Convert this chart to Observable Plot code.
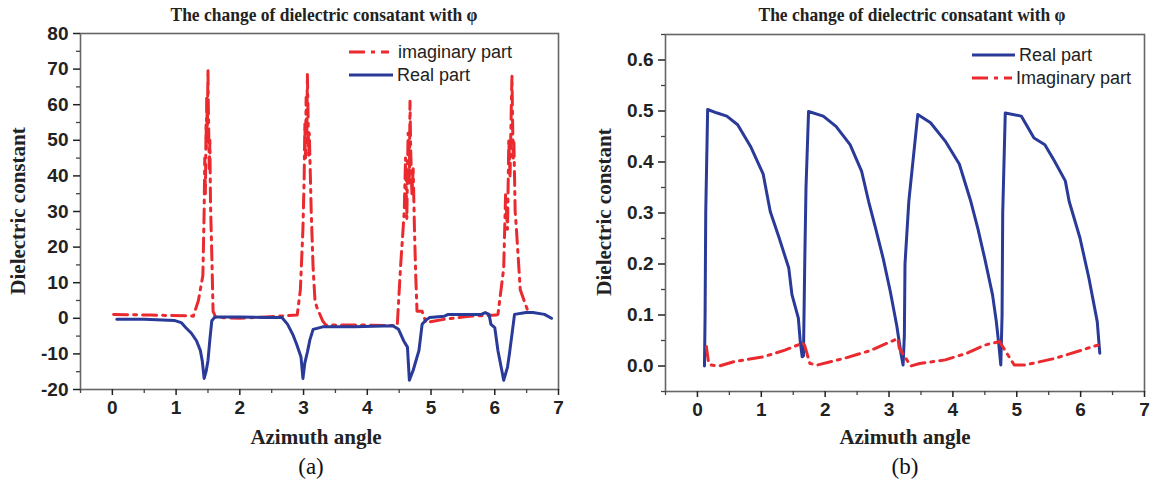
<!DOCTYPE html>
<html><head><meta charset="utf-8">
<script src="https://cdn.jsdelivr.net/npm/d3@7"></script>
<script src="https://cdn.jsdelivr.net/npm/@observablehq/plot@0.6"></script>
<style>
body{margin:0;background:#fff;}
#fig{position:relative;width:1151px;height:483px;overflow:hidden;background:#fff;}
.abs{position:absolute;white-space:nowrap;}
.title{font:bold 19px "Liberation Serif","Times New Roman",serif;color:#222;transform:translate(-50%,-50%) scaleX(0.92);}
.axlab{font:bold 21px "Liberation Serif","Times New Roman",serif;color:#222;transform:translate(-50%,-50%);}
.ylab{transform:translate(-50%,-50%) rotate(-90deg);}
.cap{font:23px "Liberation Serif","Times New Roman",serif;color:#111;transform:translate(-50%,-50%);}
.leg{font:18px "Liberation Sans",Arial,sans-serif;color:#222;display:flex;align-items:center;height:22px;transform:translateY(-50%);}
.leg svg{margin-right:4px;}
.plotwrap{position:absolute;top:0;}
</style></head><body><div id="fig"></div>
<script>
// ---------- data: panel (a) ----------
const aRealX = [0.07,0.5,0.97,1.08,1.15,1.24,1.32,1.38,1.41,1.44,1.47,1.50,1.53,1.56,1.61,2.0,2.4,2.66,2.75,2.83,2.89,2.96,2.99,3.02,3.06,3.10,3.15,3.30,3.8,4.40,4.49,4.57,4.63,4.66,4.72,4.77,4.81,4.86,4.92,4.98,5.21,5.27,5.79,5.85,5.91,5.94,6.00,6.05,6.11,6.14,6.20,6.23,6.29,6.31,6.49,6.60,6.78,6.89];
const aRealY = [-0.3,-0.3,-0.6,-1.2,-2.6,-4.2,-6.3,-9,-11.9,-16.9,-15,-11.9,-6,-0.7,0.4,0.4,0.2,0.2,-1.7,-4.5,-7.2,-10.9,-16.9,-12.5,-9.5,-6,-3.1,-2.4,-2.4,-2.1,-3.1,-6.3,-8.1,-17.4,-14.6,-11.5,-9.1,-1.7,-0.5,0.2,0.6,1.1,1.1,1.6,1.1,-1.7,-2.6,-9.1,-14.6,-17.4,-13.7,-10,-1.7,1.1,1.6,1.6,1.1,0];
const aImagX = [0.02,0.6,1.2,1.27,1.35,1.42,1.44,1.45,1.46,1.47,1.475,1.48,1.49,1.50,1.505,1.51,1.52,1.53,1.54,1.56,1.58,1.62,2.0,2.4,2.9,2.95,2.99,3.01,3.02,3.03,3.04,3.05,3.06,3.07,3.08,3.09,3.12,3.15,3.18,3.21,3.30,3.35,4.0,4.47,4.52,4.58,4.60,4.62,4.64,4.66,4.67,4.68,4.70,4.72,4.74,4.76,4.78,4.86,4.92,5.2,5.6,6.02,6.05,6.14,6.17,6.20,6.22,6.24,6.26,6.27,6.28,6.29,6.30,6.32,6.34,6.40,6.52,6.55];
const aImagY = [1.1,0.9,0.7,0.6,5,12,30,45,35,55,48,62,52,70,60,55,42,50,32,18,2,0.3,0,0.4,0.9,8,25,40,55,45,62,50,68.5,58,45,52,30,14,4.8,3,-0.7,-1.9,-1.9,-2.1,14,30,45,28,52,38,61,48,35,42,25,12,2,2,-1.2,-0.3,0.6,0.9,1.1,14,35,25,50,40,60,68,55,45,50,30,25,8,2,1.6];

// ---------- data: panel (b) ----------
const bRealX = [0.11,0.12,0.13,0.16,0.31,0.46,0.63,0.83,1.03,1.14,1.28,1.43,1.48,1.58,1.61,1.64,1.66,1.68,1.70,1.74,1.97,2.17,2.39,2.57,2.68,2.79,2.91,3.02,3.12,3.19,3.22,3.24,3.25,3.31,3.45,3.65,3.88,4.10,4.28,4.39,4.50,4.62,4.68,4.72,4.75,4.77,4.78,4.82,5.07,5.27,5.44,5.59,5.76,5.82,5.99,6.13,6.26,6.30];
const bRealY = [0.0,0.1,0.3,0.503,0.496,0.49,0.473,0.431,0.376,0.303,0.251,0.192,0.14,0.094,0.048,0.018,0.02,0.2,0.35,0.499,0.49,0.47,0.434,0.382,0.323,0.27,0.21,0.146,0.08,0.022,0.002,0.06,0.2,0.323,0.493,0.477,0.441,0.396,0.323,0.27,0.21,0.14,0.087,0.041,0.002,0.1,0.3,0.496,0.49,0.447,0.434,0.402,0.363,0.323,0.251,0.172,0.087,0.025];
const bImagX = [0.14,0.17,0.2,0.34,0.57,1.03,1.37,1.65,1.68,1.76,1.88,2.3,2.7,3.14,3.16,3.34,3.48,3.88,4.22,4.5,4.73,4.96,5.13,5.6,6.27];
const bImagY = [0.038,0.01,0.002,0.0,0.0085,0.018,0.031,0.045,0.04,0.005,0.002,0.015,0.03,0.054,0.035,0.0,0.005,0.012,0.025,0.041,0.048,0.002,0.002,0.015,0.041];

// ---------- ticks & labels ----------
const xMajor = [0,1,2,3,4,5,6,7];
const xMinor = [-0.5,0.5,1.5,2.5,3.5,4.5,5.5,6.5];
const aYMajor = [-20,-10,0,10,20,30,40,50,60,70,80];
const aYMinor = [-15,-5,5,15,25,35,45,55,65,75];
const bYMajor = [0,0.1,0.2,0.3,0.4,0.5,0.6];
const bYMinor = [-0.05,0.05,0.15,0.25,0.35,0.45,0.55,0.65];
const titleText = "The change of dielectric consatant with φ";
const xLabel = "Azimuth angle";
const yLabel = "Dielectric constant";

const BLUE = "#2a3a98", RED = "#ea2a2e", DASH = "14,6,3,6";
const zip = (xs, ys) => xs.map((x, i) => ({x, y: ys[i]}));

function panel({real, imag, yDomain, yMajor, yMinor, yFmt, width, mL, mR, mT, mB, redOnTop}) {
  const tickFont = {fontSize: 19, fontWeight: "bold", fontFamily: "Liberation Sans, Arial, sans-serif"};
  const redLine = Plot.line(imag, {x: "x", y: "y", stroke: RED, strokeWidth: 3, strokeDasharray: DASH, strokeLinejoin: "round"});
  const blueLine = Plot.line(real, {x: "x", y: "y", stroke: BLUE, strokeWidth: 3, strokeLinejoin: "round"});
  return Plot.plot({
    width, height: 483, marginLeft: mL, marginRight: mR, marginTop: mT, marginBottom: mB,
    x: {domain: [-0.5, 7]}, y: {domain: yDomain},
    style: {background: "transparent", overflow: "visible"},
    marks: [
      ...(redOnTop ? [blueLine, redLine] : [redLine, blueLine]),
      Plot.frame({stroke: "#666", strokeWidth: 1.6}),
      Plot.axisX({ticks: xMajor, tickSize: 6, tickPadding: 5, tickFormat: d => String(d), label: null, color: "#222", strokeWidth: 1.5, ...tickFont}),
      Plot.axisX({ticks: xMinor, tickSize: 4, tickFormat: null, text: null, label: null, color: "#444", strokeWidth: 1.3}),
      Plot.axisY({ticks: yMajor, tickSize: 7, tickPadding: 5, tickFormat: yFmt, label: null, color: "#222", strokeWidth: 1.5, ...tickFont}),
      Plot.axisY({ticks: yMinor, tickSize: 4, tickFormat: null, text: null, label: null, color: "#444", strokeWidth: 1.3})
    ]
  });
}

const fig = document.getElementById("fig");
function addDiv(cls, text, left, top) {
  const d = document.createElement("div");
  d.className = "abs " + cls;
  d.textContent = text;
  d.style.left = left + "px"; d.style.top = top + "px";
  fig.appendChild(d);
  return d;
}
function addPlot(svg, left) {
  const w = document.createElement("div");
  w.className = "plotwrap"; w.style.left = left + "px";
  w.appendChild(svg); fig.appendChild(w);
}
function addLegend(items, left, top) {
  items.forEach((it, i) => {
    const d = document.createElement("div");
    d.className = "abs leg";
    d.style.left = left + "px"; d.style.top = (top + i * 23) + "px";
    const ns = "http://www.w3.org/2000/svg";
    const s = document.createElementNS(ns, "svg");
    s.setAttribute("width", it.w); s.setAttribute("height", 10);
    const l = document.createElementNS(ns, "line");
    l.setAttribute("x1", 0); l.setAttribute("x2", it.w); l.setAttribute("y1", 5); l.setAttribute("y2", 5);
    l.setAttribute("stroke", it.color); l.setAttribute("stroke-width", 3);
    if (it.dash) l.setAttribute("stroke-dasharray", it.dash);
    s.appendChild(l); d.appendChild(s);
    const t = document.createElement("span"); t.textContent = it.label; t.style.whiteSpace = "pre";
    d.appendChild(t); fig.appendChild(d);
  });
}

// Panel (a)
addPlot(panel({real: zip(aRealX, aRealY), imag: zip(aImagX, aImagY), yDomain: [-20, 80], yMajor: aYMajor, yMinor: aYMinor,
  yFmt: d => String(d), width: 575, mL: 80, mR: 17, mT: 33, mB: 94, redOnTop: false}), 0);
addDiv("title", titleText, 324, 15);
addDiv("axlab ylab", yLabel, 18, 211);
addDiv("axlab", xLabel, 316, 437);
addDiv("cap", "(a)", 311, 467);
addLegend([{label: " imaginary part", color: RED, dash: "16,6,4,6", w: 40}, {label: "Real part", color: BLUE, w: 44}], 349, 52);

// Panel (b)
addPlot(panel({real: zip(bRealX, bRealY), imag: zip(bImagX, bImagY), yDomain: [-0.05, 0.65], yMajor: bYMajor, yMinor: bYMinor,
  yFmt: d3.format(".1f"), width: 576, mL: 90, mR: 7, mT: 34, mB: 92, redOnTop: true}), 575);
addDiv("title", titleText, 912, 15);
addDiv("axlab ylab", yLabel, 604, 212);
addDiv("axlab", xLabel, 905, 437);
addDiv("cap", "(b)", 905, 467);
addLegend([{label: "Real part", color: BLUE, w: 43}, {label: "Imaginary part", color: RED, dash: "16,6,4,6", w: 40}], 972, 55);
</script></body></html>
